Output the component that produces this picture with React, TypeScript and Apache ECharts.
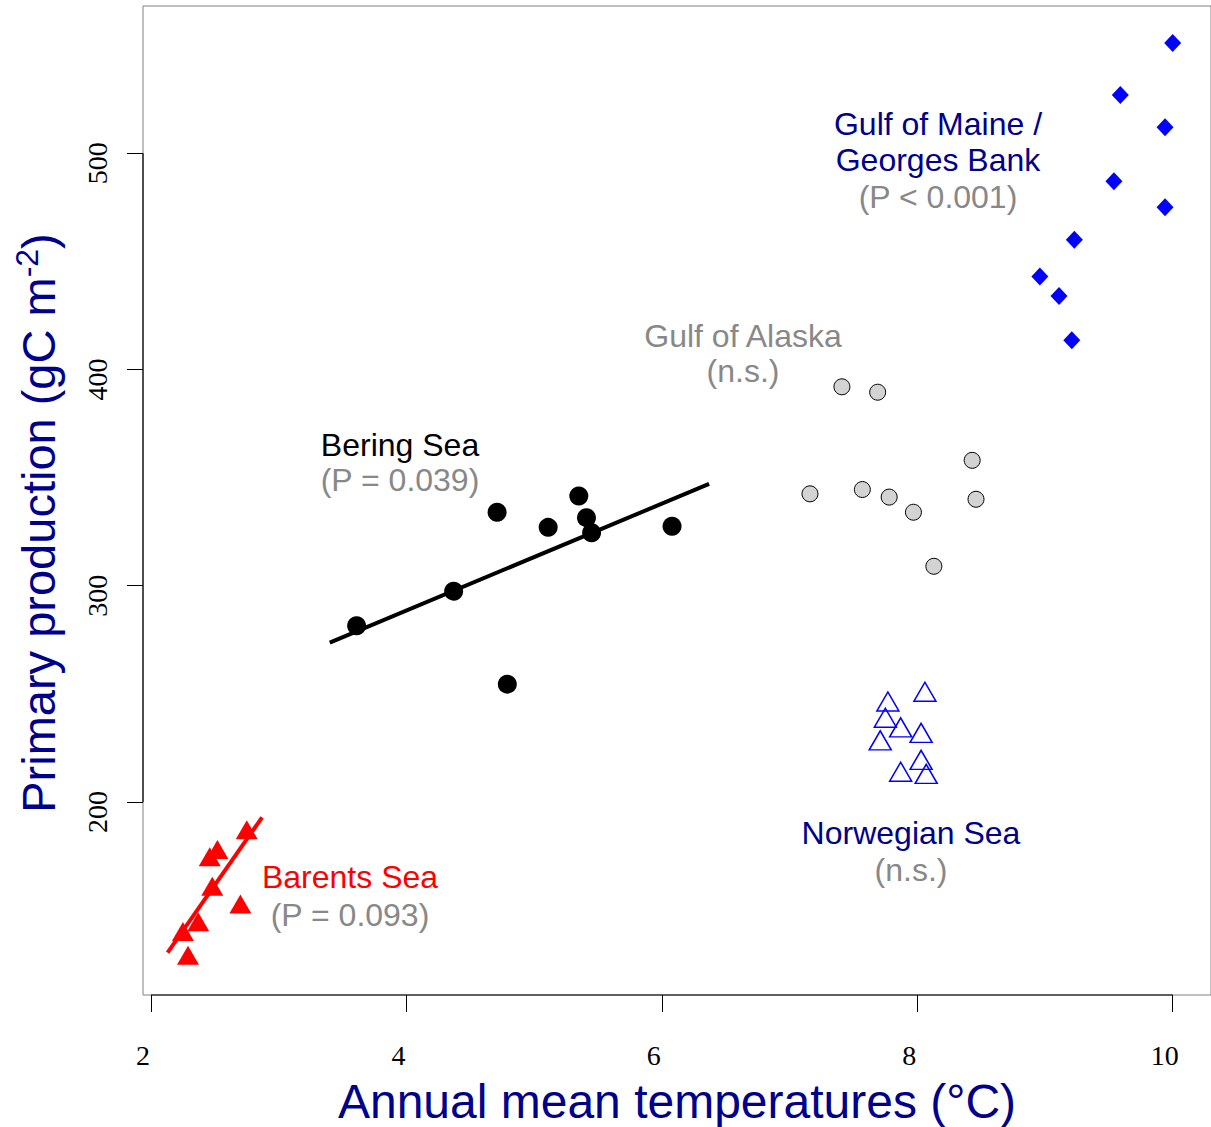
import React, { useEffect, useRef } from "react";
import * as echarts from "echarts";

// ---- Data ----
const xTicks = [2, 4, 6, 8, 10];
const yTicks = [200, 300, 400, 500];

const gomTemp = [10.0, 9.59, 9.94, 9.54, 9.94, 9.23, 8.96, 9.11, 9.21];
const gomPP = [551, 527, 512, 487, 475, 460, 443, 434, 413.5];

const goaTemp = [7.41, 7.69, 8.43, 7.16, 7.57, 7.78, 7.97, 8.46, 8.13];
const goaPP = [392, 389.5, 358, 342.5, 344.5, 341, 334, 340, 309];

const berTemp = [3.61, 4.37, 4.71, 4.79, 5.11, 5.35, 5.41, 5.45, 6.08];
const berPP = [281.5, 297.5, 334, 254.5, 327, 341.5, 331.5, 324.5, 327.5];

const norTemp = [8.06, 7.77, 7.75, 7.87, 8.03, 7.71, 8.03, 7.87, 8.07];
const norPP = [249.5, 245, 237.5, 233, 230.5, 227, 218, 212.5, 211.5];

const barTemp = [2.75, 2.52, 2.46, 2.48, 2.7, 2.37, 2.25, 2.29];
const barPP = [185.7, 176.6, 173.2, 159.6, 151.3, 143.1, 138.6, 127.7];

const berFitTemp = [3.4, 6.37];
const berFitPP = [273.7, 347.1];
const barFitTemp = [2.13, 2.87];
const barFitPP = [130.3, 192.9];

// axis ranges
const xMin = 1.9375;
const xMax = 10.3;
const yMin = 110.74;
const yMax = 568.1;

const zip = (a: number[], b: number[]) => a.map((v, i) => [v, b[i]]);

const SANS = "'Liberation Sans', Arial, Helvetica, sans-serif";
const SERIF = "'Liberation Serif', 'Times New Roman', serif";
const DARKBLUE = "#00008B";
const GRAY = "#888888";

export default function App() {
  const ref = useRef<HTMLDivElement>(null);

  useEffect(() => {
    document.body.style.margin = "0";
    if (!ref.current) return;
    const chart = echarts.init(ref.current, undefined, { renderer: "svg" });

    const txt = (x: number, y: number, text: string, fill: string, size = 32) => ({
      type: "text",
      x,
      y,
      silent: true,
      style: {
        text,
        fill,
        font: `${size}px ${SANS}`,
        align: "center",
        verticalAlign: "middle",
      },
    });

    const option: any = {
      animation: false,
      backgroundColor: "#ffffff",
      grid: {
        left: 143,
        top: 6,
        width: 1070,
        height: 989,
        show: true,
        borderColor: "#808080",
        borderWidth: 1,
        backgroundColor: "transparent",
      },
      xAxis: {
        type: "value",
        min: xMin,
        max: xMax,
        axisLine: { show: false },
        splitLine: { show: false },
        axisTick: {
          show: true,
          customValues: xTicks,
          length: 17,
          lineStyle: { color: "#000", width: 1 },
        },
        axisLabel: {
          customValues: xTicks,
          fontFamily: SERIF,
          fontSize: 28,
          color: "#000",
          margin: 46,
          padding: [0, 16, 0, 0],
        },
      },
      yAxis: {
        type: "value",
        min: yMin,
        max: yMax,
        axisLine: { show: false },
        splitLine: { show: false },
        axisTick: {
          show: true,
          customValues: yTicks,
          length: 16,
          lineStyle: { color: "#000", width: 1 },
        },
        axisLabel: {
          customValues: yTicks,
          fontFamily: SERIF,
          fontSize: 28,
          color: "#000",
          rotate: 90,
          margin: 32,
          padding: [0, 20, 0, 0],
        },
      },
      series: [
        {
          name: "xAxisLine",
          type: "line",
          data: [
            [xTicks[0], yMin],
            [xTicks[xTicks.length - 1], yMin],
          ],
          symbol: "none",
          clip: false,
          silent: true,
          lineStyle: { color: "#000", width: 1.2 },
        },
        {
          name: "yAxisLine",
          type: "line",
          data: [
            [xMin, yTicks[0]],
            [xMin, yTicks[yTicks.length - 1]],
          ],
          symbol: "none",
          clip: false,
          silent: true,
          lineStyle: { color: "#000", width: 1.2 },
        },
        {
          name: "Bering fit",
          type: "line",
          data: zip(berFitTemp, berFitPP),
          symbol: "none",
          lineStyle: { color: "#000", width: 4 },
          z: 2,
        },
        {
          name: "Barents fit",
          type: "line",
          data: zip(barFitTemp, barFitPP),
          symbol: "none",
          lineStyle: { color: "#FF0000", width: 4 },
          z: 2,
        },
        {
          name: "Gulf of Maine / Georges Bank",
          type: "scatter",
          symbol: "diamond",
          symbolSize: [17, 18],
          data: zip(gomTemp, gomPP),
          itemStyle: { color: "#0000FF", opacity: 1 },
          z: 3,
        },
        {
          name: "Gulf of Alaska",
          type: "scatter",
          symbol: "circle",
          symbolSize: 16,
          data: zip(goaTemp, goaPP),
          itemStyle: { color: "#D3D3D3", borderColor: "#000", borderWidth: 1, opacity: 1 },
          z: 3,
        },
        {
          name: "Bering Sea",
          type: "scatter",
          symbol: "circle",
          symbolSize: 19,
          data: zip(berTemp, berPP),
          itemStyle: { color: "#000", opacity: 1 },
          z: 3,
        },
        {
          name: "Norwegian Sea",
          type: "scatter",
          symbol: "triangle",
          symbolSize: [22, 19],
          symbolOffset: [0, -3.2],
          data: zip(norTemp, norPP),
          itemStyle: { color: "rgba(0,0,0,0)", borderColor: "#0000FF", borderWidth: 1.5, opacity: 1 },
          z: 3,
        },
        {
          name: "Barents Sea",
          type: "scatter",
          symbol: "triangle",
          symbolSize: [22, 19],
          symbolOffset: [0, -3.2],
          data: zip(barTemp, barPP),
          itemStyle: { color: "#FF0000", opacity: 1 },
          z: 3,
        },
      ],
      graphic: [
        {
          type: "text",
          x: 677,
          y: 1101,
          silent: true,
          style: {
            text: "Annual mean temperatures (°C)",
            fill: DARKBLUE,
            font: `48px ${SANS}`,
            align: "center",
            verticalAlign: "middle",
          },
        },
        {
          type: "text",
          x: 38,
          y: 523,
          rotation: Math.PI / 2,
          silent: true,
          style: {
            text: "{a|Primary production (gC m}{b|-2}{a|)}",
            align: "center",
            verticalAlign: "middle",
            rich: {
              a: { fontSize: 47, fontFamily: SANS, fill: DARKBLUE, lineHeight: 54 },
              b: { fontSize: 32, fontFamily: SANS, fill: DARKBLUE, verticalAlign: "top", lineHeight: 36 },
            },
          },
        },
        txt(938, 124, "Gulf of Maine /", DARKBLUE),
        txt(938, 160, "Georges Bank", DARKBLUE),
        txt(938, 197, "(P < 0.001)", GRAY),
        txt(743, 336, "Gulf of Alaska", GRAY),
        txt(743, 371, "(n.s.)", GRAY),
        txt(400, 445, "Bering Sea", "#000"),
        txt(400, 480, "(P = 0.039)", GRAY),
        txt(350, 877, "Barents Sea", "#FF0000"),
        txt(350, 915, "(P = 0.093)", GRAY),
        txt(911, 833, "Norwegian Sea", DARKBLUE),
        txt(911, 870, "(n.s.)", GRAY),
      ],
    };

    chart.setOption(option);
    return () => {
      chart.dispose();
    };
  }, []);

  return <div ref={ref} style={{ width: 1211, height: 1127 }} />;
}
